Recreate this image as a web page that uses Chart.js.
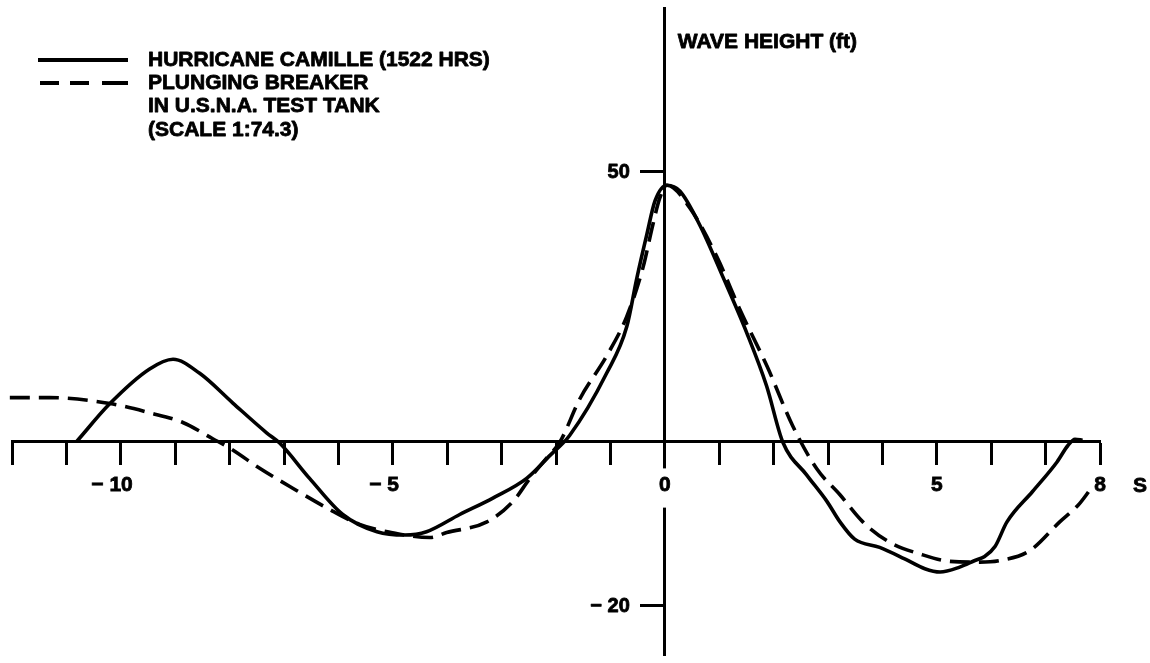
<!DOCTYPE html>
<html><head><meta charset="utf-8">
<script src="https://cdn.jsdelivr.net/npm/chart.js@4.4.1/dist/chart.umd.min.js"></script>
<style>html,body{margin:0;padding:0;background:#fff;}#wrap{width:1150px;height:663px;}</style>
</head><body><div id="wrap"><canvas id="c" width="1150" height="663"></canvas></div>
<script>
// Hurricane Camille (solid): S position vs wave height (ft)
const camilleX = [-10.81,-10.2,-9.47,-9.04,-8.55,-7.94,-7.32,-7.08,-6.53,-5.92,-5.29,-4.78,-4.38,-3.77,-3.16,-2.54,-2.11,-1.75,-1.07,-0.70,-0.51,-0.33,-0.18,0.04,0.28,0.64,1.07,1.51,1.87,2.17,2.61,2.98,3.22,3.49,3.95,4.41,4.78,5.06,5.42,5.70,5.88,6.07,6.29,6.76,7.21,7.41,7.54,7.68];
const camilleY = [0,7.0,13.4,15.2,12.6,7.1,1.6,-0.2,-4.5,-8.9,-11.0,-11.4,-11.0,-8.9,-6.9,-4.5,-1.7,1.1,12.6,21.2,30.4,38.3,44.5,47.4,46.3,40.1,30.4,20.0,10.3,-0.1,-4.1,-7.3,-9.8,-11.9,-12.9,-14.3,-15.5,-15.9,-15.3,-14.5,-14.0,-12.8,-9.8,-6.1,-2.5,-0.5,0.4,0.2];
// Plunging breaker in U.S.N.A. test tank (dashed)
const breakerX = [-12.04,-11.31,-10.2,-9.47,-8.86,-8.31,-8.0,-7.44,-6.84,-6.21,-5.61,-4.87,-4.32,-4.01,-3.27,-2.79,-2.48,-2.17,-1.93,-1.56,-1.07,-0.70,-0.40,-0.22,-0.09,0.04,0.46,0.96,1.38,1.88,2.35,2.79,3.22,3.64,4.14,4.69,5.24,5.79,6.16,6.71,7.26,7.62,7.87];
const breakerY = [8.1,8.1,7.0,5.3,3.5,0.5,-0.8,-3.3,-5.7,-8.1,-10.1,-11.3,-11.7,-11.1,-9.8,-7.3,-4.5,-2.0,-0.1,7.9,15.8,23.1,32.2,40.1,45.1,47.4,43.2,34.1,24.4,13.9,2.9,-3.3,-6.5,-9.8,-12.3,-13.7,-14.6,-14.7,-14.5,-13.3,-9.8,-7.6,-5.4];
// x tick labels: digits sit on the tick, the minus sign hangs to the left
const xTickLabels = {"-10":"\u2212 10\u2007 ","-5":"\u2212 5\u2007 ","0":"0","5":"5","8":"8"};
const yTickValues = [50,-20];
const yTickLabels = ["50","\u2212 20"];
const legendLines = ["HURRICANE CAMILLE (1522 HRS)","PLUNGING BREAKER","IN U.S.N.A. TEST TANK","(SCALE 1:74.3)"];
const yTitle = "WAVE HEIGHT (ft)";
const xTitle = "S";
// the original drawing's vertical axis is stretched below zero (−20 sits lower than a uniform 50-scale would put it)
const yLowerStretch = 1.52;

class SplitLinearScale extends Chart.LinearScale {
  zeroPixel(){ const f = this.max/(this.max - this.min*yLowerStretch); return this.top + (this.bottom-this.top)*f; }
  getPixelForValue(v){
    if (v===null || v===undefined || isNaN(v)) return NaN;
    const z = this.zeroPixel();
    return v>=0 ? z - (v/this.max)*(z-this.top) : z + (v/this.min)*(this.bottom-z);
  }
  getValueForPixel(p){
    const z = this.zeroPixel();
    return p<=z ? (z-p)/(z-this.top)*this.max : (p-z)/(this.bottom-z)*this.min;
  }
}
SplitLinearScale.id = 'splitLinear';
SplitLinearScale.defaults = {};
Chart.register(SplitLinearScale);

const FONT = "'Liberation Sans', Arial, Helvetica, sans-serif";
const pts = (xs, ys) => xs.map((x,i)=>({x:x,y:ys[i]}));

function boldText(c, t, x, y){ c.strokeText(t, x, y); c.fillText(t, x, y); }

const overlay = {
  id:'overlay',
  afterDraw(chart){
    const c = chart.ctx, xs = chart.scales.x, ys = chart.scales.y;
    const x0 = xs.getPixelForValue(0);
    c.save();
    c.fillStyle='#000'; c.strokeStyle='#000'; c.lineWidth=0.8; c.lineJoin='round';
    c.font = "bold 20px " + FONT;
    c.textBaseline='middle';
    c.textAlign='right';
    yTickValues.forEach((v,i)=>{ boldText(c, yTickLabels[i], x0-35, ys.getPixelForValue(v)+1); });
    c.font = "bold 21px " + FONT;
    c.textAlign='center';
    boldText(c, xTitle, 1140, ys.getPixelForValue(0)+45);
    c.textAlign='left';
    boldText(c, yTitle, x0+13, 42);
    legendLines.forEach((t,i)=>boldText(c, t, 148, 60 + i*23.3));
    c.lineWidth = 4; c.lineCap='butt';
    c.beginPath(); c.moveTo(38,60); c.lineTo(128,60); c.stroke();
    c.setLineDash([19,11,19,13,26,40]);
    c.beginPath(); c.moveTo(40,83); c.lineTo(128,83); c.stroke();
    c.restore();
  }
};

new Chart(document.getElementById('c'), {
  type:'scatter',
  data:{datasets:[
    {label:legendLines[0], data:pts(camilleX,camilleY), showLine:true, borderColor:'#000', borderWidth:3.6, pointRadius:0, cubicInterpolationMode:'monotone', clip:false},
    {label:legendLines[1], data:pts(breakerX,breakerY), showLine:true, borderColor:'#000', borderWidth:3.6, borderDash:[20,9], pointRadius:0, cubicInterpolationMode:'monotone', clip:false}
  ]},
  options:{
    responsive:false, animation:false, devicePixelRatio:1,
    layout:{padding:{left:12,right:50,top:8,bottom:0}},
    plugins:{legend:{display:false}, tooltip:{enabled:false}},
    scales:{
      x:{type:'linear', min:-12, max:8, position:{y:0},
        afterBuildTicks:s=>{ const t=[]; for(let v=-12; v<=8; v++) t.push({value:v}); s.ticks=t; },
        ticks:{autoSkip:false, maxRotation:0, color:'#000', padding:9, z:1,
          font:{family:FONT, size:21, weight:'bold'},
          textStrokeColor:'#000', textStrokeWidth:0.8,
          callback:v=> (xTickLabels[String(v)] !== undefined ? xTickLabels[String(v)] : ''),
          showLabelBackdrop:true, backdropPadding:{top:4,bottom:10,left:4,right:4},
          backdropColor:ctx=> (ctx.tick && ctx.tick.value===0 ? '#fff' : 'rgba(0,0,0,0)')},
        grid:{drawOnChartArea:false, drawTicks:true, tickLength:22, tickWidth:3, color:'#000'},
        border:{display:true, width:3, color:'#000'}},
      y:{type:'splitLinear', min:-26.1, max:80.2, position:{x:0},
        afterBuildTicks:s=>{ s.ticks = yTickValues.map(v=>({value:v})); },
        ticks:{callback:()=>'', padding:0},
        grid:{drawOnChartArea:false, drawTicks:true, tickLength:23, tickWidth:3, color:'#000'},
        border:{display:true, width:3, color:'#000'}}
    }
  },
  plugins:[overlay]
});
</script></body></html>
